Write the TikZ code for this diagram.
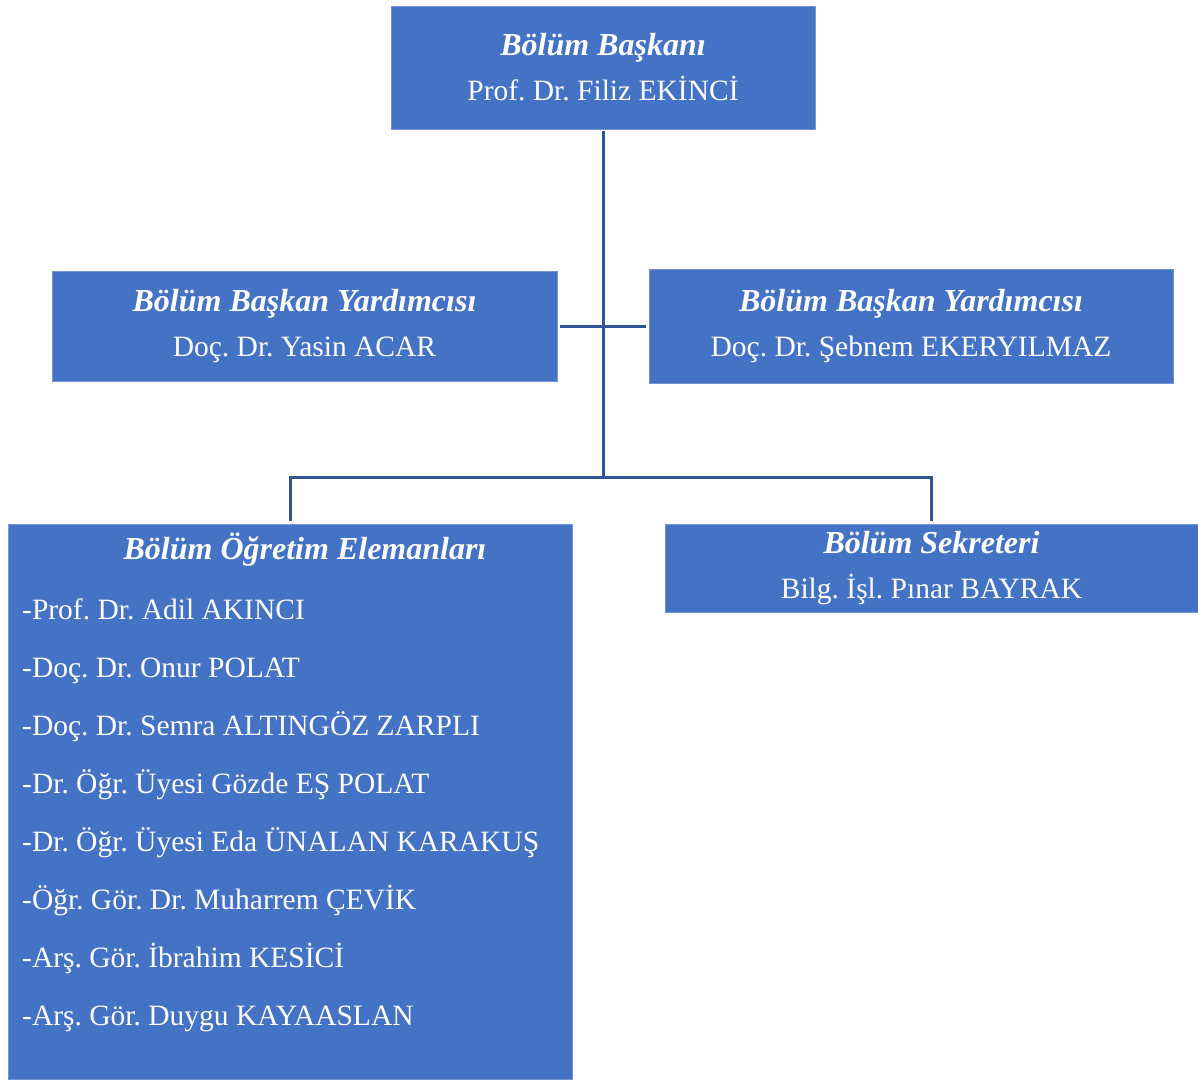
\documentclass[tikz,border=0pt]{standalone}
\usepackage{fontspec}
\setmainfont{Liberation Serif}
\usetikzlibrary{positioning}
\definecolor{boxblue}{RGB}{68,114,196}
\definecolor{lineblue}{RGB}{47,85,151}
\tikzset{%
  % Specifications for style of nodes:
            base/.style = {rectangle, fill=boxblue, draw=boxblue!75!white,
                           line width=0.8pt, text=white, inner sep=0pt,
                           align=center,
                           font=\fontsize{29.5}{45}\selectfont\frenchspacing},
         headbox/.style = {base, minimum width=424, minimum height=123},
         vicebox/.style = {base, minimum width=505, minimum height=110},
        staffbox/.style = {base, minimum width=564, minimum height=555},
      secretbox/.style = {base, minimum width=533, minimum height=88},
          member/.style = {text=white, inner sep=0pt,
                           font=\fontsize{29.5}{32}\selectfont\frenchspacing},
       connector/.style = {draw=lineblue, line width=3pt},
}
\newcommand{\boxtitle}[1]{{\fontsize{32}{45}\selectfont\textbf{\textit{#1}}}}

\begin{document}
\begin{tikzpicture}[x=1pt, y=-1pt]
  \useasboundingbox (0,0) rectangle (1198,1079);
  % Specification of nodes (position, etc.)

  \node (head)      [headbox]  at (603,67.5)
        {\boxtitle{Bölüm Başkanı}\\Prof. Dr. Filiz EKİNCİ};
  \node (vice1)     [vicebox]  at (304.5,326)
        {\boxtitle{Bölüm Başkan Yardımcısı}\\Doç. Dr. Yasin ACAR};
  \node (vice2)     [vicebox, minimum width=524, minimum height=114] at (911,326)
        {\boxtitle{Bölüm Başkan Yardımcısı}\\Doç. Dr. Şebnem EKERYILMAZ};
  \node (staff)     [staffbox] at (290,801.5) {};
  \node (secretary) [secretbox] at (931.5,568)
        {\boxtitle{Bölüm Sekreteri}\\Bilg. İşl. Pınar BAYRAK};

  \node (stafftitle) [member, anchor=base] at (305,559)
        {\boxtitle{Bölüm Öğretim Elemanları}};
  \foreach \name [count=\i] in {-Prof. Dr. Adil AKINCI, -Doç. Dr. Onur POLAT,
      -Doç. Dr. Semra ALTINGÖZ ZARPLI, -Dr. Öğr. Üyesi Gözde EŞ POLAT,
      -Dr. Öğr. Üyesi Eda ÜNALAN KARAKUŞ, -Öğr. Gör. Dr. Muharrem ÇEVİK,
      -Arş. Gör. İbrahim KESİCİ, -Arş. Gör. Duygu KAYAASLAN}
    \node (m\i) [member, anchor=base west] at (22,{619+58.14*(\i-1)}) {\name};

  \coordinate (junction) at (603,477);

  \draw[connector, shorten <=2pt]            (head) -- (junction);
  \draw[connector, shorten <=3pt, shorten >=3pt] (vice1) -- (vice2);
  \draw[connector, shorten <=3pt]            (staff) |- (junction);
  \draw[connector, shorten >=3pt]            (junction) -| (secretary);

\end{tikzpicture}
\end{document}
